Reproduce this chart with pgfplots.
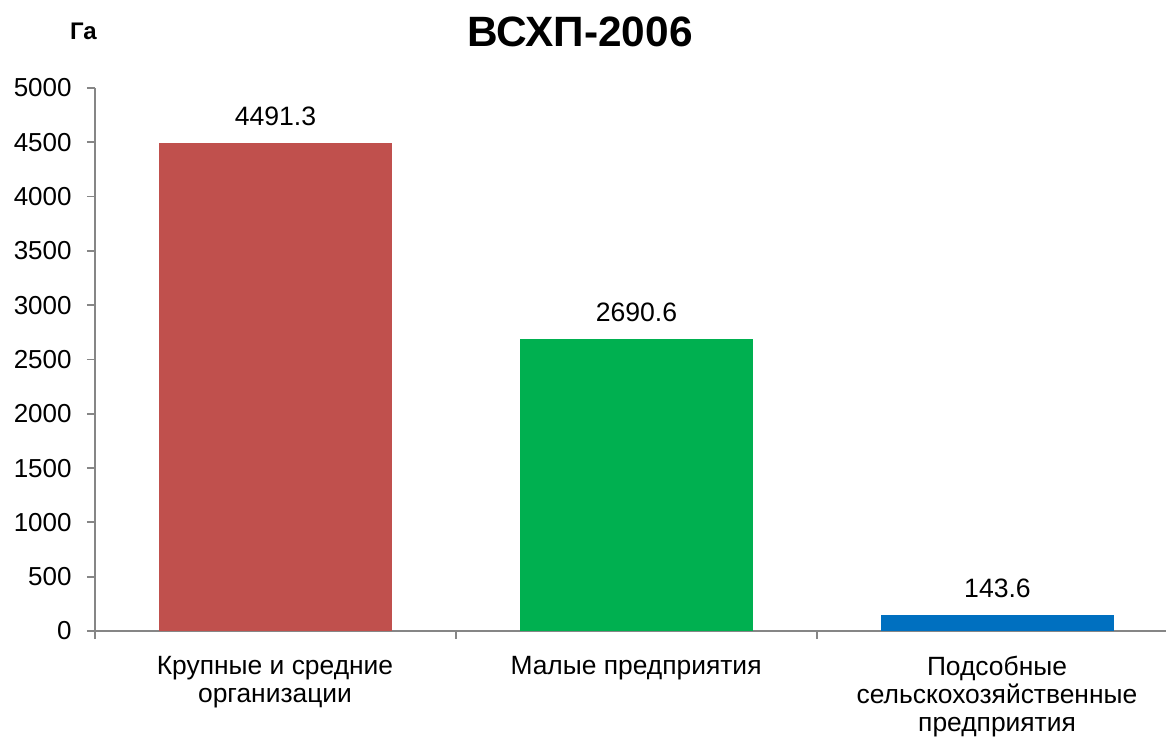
\documentclass[border=0pt]{standalone}
\usepackage{fontspec}
\setmainfont{Liberation Sans}
\usepackage{pgfplots}
\pgfplotsset{compat=1.18}
\definecolor{barred}{HTML}{C0504D}
\definecolor{bargreen}{HTML}{00B050}
\definecolor{barblue}{HTML}{0070C0}
\definecolor{axgray}{HTML}{868686}
\begin{document}
\begin{tikzpicture}
\path[use as bounding box] (-47.5pt,-53.5pt) rectangle (535.5pt,315.5pt);
\begin{axis}[
  at={(0,0)}, anchor=south west,
  scale only axis,
  width=541.5pt, height=271.5pt,
  xmin=-0.5, xmax=2.5,
  ymin=0, ymax=5000,
  axis x line*=bottom, axis y line*=left,
  axis line style={draw=axgray, line width=0.9pt},
  tick style={draw=axgray, line width=0.9pt},
  tick align=outside,
  major tick length=4pt,
  ytick={0,500,...,5000},
  xtick={-0.5,0.5,1.5},
  xticklabels={{Крупные и средние\\организации},{Малые предприятия},{Подсобные\\сельскохозяйственные\\предприятия}},
  xticklabel style={font=\fontsize{13.2}{14}\selectfont, align=center, inner sep=0pt, anchor=north, xshift=90pt, yshift=-8.5pt},
  yticklabel style={font=\fontsize{13}{14}\selectfont, inner sep=0pt, anchor=east, xshift=-7.5pt},
  /pgf/number format/assume math mode=true,
  /pgf/number format/1000 sep={},
  ybar, bar width=116.5pt,
  nodes near coords,
  nodes near coords style={font=\fontsize{13.3}{14}\selectfont, inner sep=0pt, anchor=south, yshift=8.5pt,
    /pgf/number format/fixed, /pgf/number format/fixed zerofill, /pgf/number format/precision=1},
  bar shift=0pt,
  clip=false,
]
\addplot[fill=barred, draw=none] coordinates {(0,4491.3)};
\addplot[fill=bargreen, draw=none] coordinates {(1,2690.6)};
\addplot[fill=barblue, draw=none] coordinates {(2,143.6)};
\end{axis}
\node[font=\bfseries\fontsize{21.2}{24}\selectfont] at (242.5pt,299.5pt) {ВСХП-2006};
\node[font=\bfseries\fontsize{12}{14}\selectfont] at (-5.75pt,300pt) {Га};
\end{tikzpicture}
\end{document}
